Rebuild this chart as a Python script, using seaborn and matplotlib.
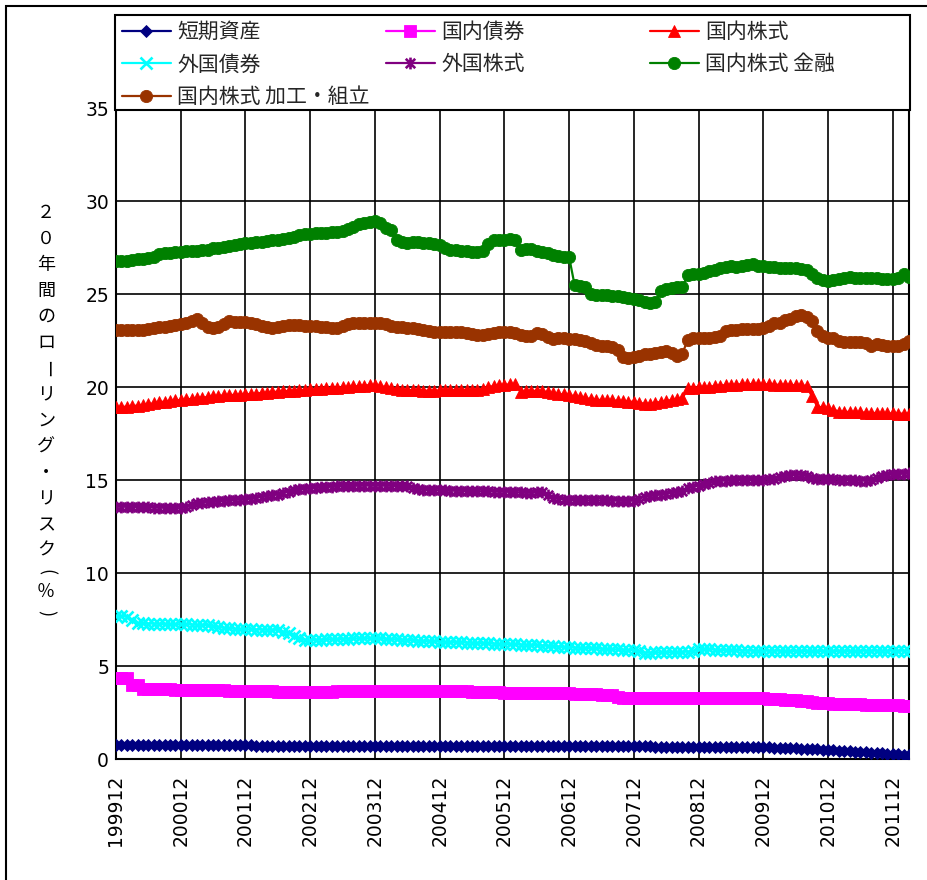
import matplotlib
matplotlib.use("Agg")
import matplotlib.pyplot as plt
import seaborn as sns
import numpy as np
from matplotlib.path import Path
from matplotlib.patches import Rectangle

sns.set_theme(style="white")
plt.rcParams["font.family"] = ["DejaVu Sans", "Noto Sans CJK JP"]

# Monthly observations, 1999/12 .. 2012/03 (148 months)
tick_labels = ["199912", "200012", "200112", "200212", "200312", "200412", "200512",
               "200612", "200712", "200812", "200912", "201012", "201112"]

short_term = [
    0.76, 0.76, 0.75, 0.75, 0.75, 0.75, 0.75, 0.74, 0.74, 0.74, 0.74, 0.74,
    0.74, 0.74, 0.74, 0.73, 0.73, 0.73, 0.73, 0.73, 0.73, 0.73, 0.73, 0.73,
    0.73, 0.73, 0.72, 0.72, 0.72, 0.72, 0.72, 0.72, 0.72, 0.72, 0.72, 0.72,
    0.72, 0.72, 0.72, 0.72, 0.72, 0.72, 0.72, 0.72, 0.72, 0.72, 0.71, 0.71,
    0.71, 0.71, 0.71, 0.71, 0.71, 0.71, 0.71, 0.71, 0.71, 0.71, 0.71, 0.71,
    0.71, 0.71, 0.71, 0.71, 0.71, 0.70, 0.70, 0.70, 0.70, 0.70, 0.70, 0.70,
    0.70, 0.70, 0.70, 0.70, 0.70, 0.70, 0.69, 0.69, 0.69, 0.69, 0.69, 0.69,
    0.69, 0.69, 0.69, 0.69, 0.69, 0.69, 0.68, 0.68, 0.68, 0.68, 0.68, 0.68,
    0.68, 0.68, 0.68, 0.68, 0.67, 0.67, 0.67, 0.67, 0.67, 0.67, 0.67, 0.67,
    0.67, 0.67, 0.66, 0.66, 0.66, 0.66, 0.65, 0.65, 0.65, 0.64, 0.64, 0.64,
    0.63, 0.62, 0.61, 0.60, 0.59, 0.58, 0.57, 0.56, 0.55, 0.53, 0.52, 0.50,
    0.48, 0.47, 0.45, 0.43, 0.42, 0.40, 0.38, 0.36, 0.34, 0.32, 0.31, 0.29,
    0.27, 0.25, 0.23, 0.21]

dom_bond = [
    4.34, 4.34, 4.34, 3.98, 3.98, 3.76, 3.75, 3.75, 3.75, 3.74, 3.74, 3.73,
    3.73, 3.72, 3.72, 3.71, 3.71, 3.70, 3.70, 3.69, 3.69, 3.68, 3.68, 3.67,
    3.67, 3.66, 3.66, 3.65, 3.64, 3.63, 3.62, 3.61, 3.60, 3.59, 3.58, 3.58,
    3.58, 3.58, 3.59, 3.60, 3.61, 3.63, 3.64, 3.65, 3.65, 3.66, 3.66, 3.66,
    3.66, 3.66, 3.66, 3.66, 3.66, 3.66, 3.66, 3.66, 3.66, 3.66, 3.66, 3.66,
    3.66, 3.65, 3.65, 3.64, 3.64, 3.63, 3.62, 3.61, 3.60, 3.59, 3.58, 3.58,
    3.57, 3.57, 3.56, 3.55, 3.54, 3.53, 3.53, 3.53, 3.53, 3.53, 3.53, 3.53,
    3.53, 3.52, 3.51, 3.50, 3.49, 3.48, 3.46, 3.45, 3.44, 3.36, 3.28, 3.27,
    3.27, 3.27, 3.27, 3.28, 3.28, 3.28, 3.29, 3.29, 3.29, 3.30, 3.30, 3.30,
    3.30, 3.30, 3.30, 3.29, 3.29, 3.29, 3.28, 3.28, 3.28, 3.27, 3.27, 3.26,
    3.26, 3.24, 3.22, 3.20, 3.18, 3.17, 3.15, 3.13, 3.11, 3.05, 3.00, 3.00,
    2.99, 2.98, 2.97, 2.97, 2.96, 2.95, 2.94, 2.93, 2.92, 2.91, 2.90, 2.89,
    2.88, 2.88, 2.87, 2.87]

dom_equity = [
    18.90, 18.92, 18.95, 18.98, 19.00, 19.03, 19.08, 19.12, 19.18, 19.22, 19.26, 19.28,
    19.30, 19.33, 19.36, 19.40, 19.43, 19.46, 19.50, 19.52, 19.55, 19.56, 19.58, 19.59,
    19.60, 19.62, 19.65, 19.68, 19.70, 19.73, 19.75, 19.77, 19.79, 19.80, 19.83, 19.85,
    19.87, 19.88, 19.90, 19.92, 19.94, 19.96, 19.98, 20.00, 20.03, 20.05, 20.08, 20.10,
    20.10, 20.05, 20.00, 19.95, 19.90, 19.86, 19.84, 19.83, 19.82, 19.81, 19.80, 19.80,
    19.82, 19.83, 19.84, 19.84, 19.85, 19.85, 19.86, 19.86, 19.90, 20.00, 20.05, 20.10,
    20.12, 20.14, 20.15, 19.75, 19.76, 19.78, 19.80, 19.78, 19.72, 19.66, 19.62, 19.60,
    19.57, 19.50, 19.45, 19.40, 19.35, 19.32, 19.30, 19.30, 19.28, 19.26, 19.24, 19.22,
    19.20, 19.15, 19.10, 19.10, 19.15, 19.20, 19.25, 19.30, 19.35, 19.40, 19.92, 19.95,
    19.98, 20.00, 20.02, 20.05, 20.08, 20.10, 20.12, 20.13, 20.15, 20.15, 20.16, 20.16,
    20.15, 20.14, 20.13, 20.12, 20.12, 20.11, 20.10, 20.10, 20.05, 19.50, 18.95, 18.90,
    18.85, 18.78, 18.68, 18.67, 18.66, 18.65, 18.64, 18.62, 18.61, 18.60, 18.59, 18.58,
    18.58, 18.57, 18.57, 18.56]

for_bond = [
    7.69, 7.68, 7.65, 7.45, 7.30, 7.29, 7.28, 7.28, 7.27, 7.26, 7.25, 7.25,
    7.24, 7.24, 7.23, 7.22, 7.21, 7.20, 7.15, 7.10, 7.05, 7.02, 7.00, 6.98,
    6.97, 6.97, 6.96, 6.96, 6.95, 6.95, 6.94, 6.85, 6.75, 6.60, 6.50, 6.42,
    6.40, 6.41, 6.42, 6.43, 6.44, 6.45, 6.46, 6.47, 6.48, 6.48, 6.49, 6.49,
    6.49, 6.48, 6.46, 6.45, 6.43, 6.42, 6.40, 6.38, 6.36, 6.35, 6.33, 6.32,
    6.31, 6.30, 6.29, 6.28, 6.27, 6.26, 6.25, 6.24, 6.22, 6.21, 6.20, 6.19,
    6.18, 6.17, 6.16, 6.15, 6.14, 6.13, 6.12, 6.10, 6.08, 6.06, 6.04, 6.02,
    6.00, 5.99, 5.98, 5.97, 5.96, 5.95, 5.93, 5.92, 5.90, 5.89, 5.88, 5.87,
    5.86, 5.78, 5.72, 5.72, 5.73, 5.73, 5.74, 5.74, 5.75, 5.76, 5.77, 5.80,
    5.90, 5.92, 5.90, 5.88, 5.86, 5.85, 5.84, 5.84, 5.83, 5.83, 5.82, 5.82,
    5.82, 5.82, 5.82, 5.82, 5.81, 5.81, 5.81, 5.81, 5.81, 5.81, 5.81, 5.81,
    5.81, 5.81, 5.81, 5.81, 5.81, 5.81, 5.82, 5.82, 5.82, 5.82, 5.82, 5.82,
    5.82, 5.82, 5.82, 5.83]

for_equity = [
    13.57, 13.56, 13.56, 13.55, 13.55, 13.54, 13.53, 13.52, 13.52, 13.50, 13.50, 13.49,
    13.48, 13.55, 13.65, 13.75, 13.77, 13.80, 13.82, 13.85, 13.88, 13.90, 13.93, 13.95,
    13.96, 14.00, 14.05, 14.10, 14.14, 14.18, 14.22, 14.30, 14.38, 14.45, 14.50, 14.53,
    14.55, 14.58, 14.60, 14.62, 14.64, 14.66, 14.68, 14.68, 14.69, 14.69, 14.70, 14.70,
    14.70, 14.70, 14.69, 14.69, 14.68, 14.68, 14.66, 14.58, 14.50, 14.48, 14.46, 14.45,
    14.45, 14.44, 14.43, 14.42, 14.42, 14.41, 14.40, 14.40, 14.39, 14.39, 14.38, 14.38,
    14.37, 14.36, 14.35, 14.33, 14.32, 14.31, 14.33, 14.35, 14.20, 14.05, 14.00, 13.95,
    13.92, 13.92, 13.91, 13.91, 13.90, 13.90, 13.90, 13.90, 13.89, 13.89, 13.88, 13.88,
    13.89, 14.00, 14.10, 14.14, 14.18, 14.22, 14.26, 14.30, 14.34, 14.40, 14.55, 14.65,
    14.70, 14.76, 14.84, 14.92, 14.96, 14.97, 14.98, 14.98, 14.99, 14.99, 15.00, 15.00,
    15.00, 15.04, 15.08, 15.14, 15.20, 15.26, 15.28, 15.28, 15.20, 15.10, 15.07, 15.05,
    15.04, 15.03, 15.02, 15.00, 14.99, 14.98, 14.97, 14.96, 14.98, 15.10, 15.20, 15.26,
    15.30, 15.32, 15.34, 15.36]

dom_financial = [
    26.75, 26.78, 26.80, 26.83, 26.86, 26.90, 26.95, 27.00, 27.15, 27.20, 27.22, 27.25,
    27.28, 27.30, 27.30, 27.32, 27.35, 27.38, 27.45, 27.50, 27.55, 27.60, 27.62, 27.68,
    27.75, 27.76, 27.78, 27.80, 27.85, 27.88, 27.92, 27.95, 28.00, 28.05, 28.15, 28.22,
    28.25, 28.26, 28.28, 28.30, 28.32, 28.35, 28.40, 28.50, 28.62, 28.75, 28.82, 28.85,
    28.90, 28.82, 28.55, 28.45, 27.90, 27.80, 27.75, 27.78, 27.78, 27.76, 27.74, 27.70,
    27.65, 27.50, 27.38, 27.35, 27.33, 27.30, 27.28, 27.27, 27.30, 27.70, 27.88, 27.90,
    27.92, 27.95, 27.88, 27.35, 27.40, 27.42, 27.30, 27.25, 27.18, 27.10, 27.05, 27.00,
    26.98, 25.50, 25.45, 25.35, 25.00, 24.95, 24.95, 24.95, 24.90, 24.90, 24.85, 24.80,
    24.75, 24.70, 24.55, 24.50, 24.55, 25.15, 25.25, 25.30, 25.35, 25.40, 26.00, 26.05,
    26.10, 26.15, 26.25, 26.30, 26.40, 26.45, 26.48, 26.45, 26.50, 26.55, 26.60, 26.52,
    26.48, 26.45, 26.45, 26.42, 26.40, 26.38, 26.38, 26.35, 26.30, 26.05, 25.85, 25.75,
    25.72, 25.75, 25.80, 25.85, 25.90, 25.88, 25.86, 25.85, 25.85, 25.84, 25.83, 25.82,
    25.82, 25.85, 26.05, 25.92]

dom_assembly = [
    23.05, 23.05, 23.05, 23.05, 23.06, 23.08, 23.10, 23.15, 23.22, 23.25, 23.30, 23.35,
    23.40, 23.45, 23.55, 23.65, 23.45, 23.20, 23.15, 23.20, 23.40, 23.55, 23.50, 23.50,
    23.50, 23.45, 23.40, 23.30, 23.20, 23.15, 23.20, 23.30, 23.33, 23.33, 23.32, 23.30,
    23.30, 23.28, 23.25, 23.20, 23.15, 23.15, 23.30, 23.40, 23.42, 23.45, 23.46, 23.46,
    23.45, 23.42, 23.38, 23.30, 23.22, 23.20, 23.15, 23.18, 23.10, 23.05, 23.00, 22.98,
    22.97, 22.96, 22.95, 22.95, 22.94, 22.92, 22.85, 22.80, 22.78, 22.85, 22.90, 22.95,
    22.97, 22.95, 22.88, 22.82, 22.72, 22.75, 22.88, 22.85, 22.70, 22.60, 22.62, 22.62,
    22.60, 22.58, 22.52, 22.45, 22.35, 22.25, 22.20, 22.20, 22.15, 22.00, 21.60, 21.55,
    21.60, 21.65, 21.75, 21.80, 21.85, 21.90, 21.92, 21.85, 21.65, 21.80, 22.55, 22.62,
    22.64, 22.65, 22.66, 22.70, 22.75, 23.00, 23.05, 23.08, 23.10, 23.12, 23.12, 23.13,
    23.15, 23.30, 23.45, 23.45, 23.60, 23.65, 23.80, 23.88, 23.75, 23.55, 23.00, 22.75,
    22.62, 22.62, 22.45, 22.44, 22.44, 22.42, 22.40, 22.35, 22.20, 22.30, 22.28, 22.18,
    22.20, 22.22, 22.30, 22.45]

series_names = ["短期資産", "国内債券", "国内株式", "外国債券", "外国株式",
                "国内株式 金融", "国内株式 加工・組立"]
series_values = [short_term, dom_bond, dom_equity, for_bond, for_equity,
                 dom_financial, dom_assembly]
series_colors = ["#000080", "#FF00FF", "#FF0000", "#00FFFF", "#800080",
                 "#008000", "#993300"]

# Asterisk marker: an "x" crossed by a vertical stroke
asterisk = Path([(-1, -1), (1, 1), (-1, 1), (1, -1), (0, -1.25), (0, 1.25)],
                [Path.MOVETO, Path.LINETO, Path.MOVETO, Path.LINETO,
                 Path.MOVETO, Path.LINETO])
series_markers = ["D", "s", "^", "x", asterisk, "o", "o"]
marker_sizes = [6.6, 9.0, 9.0, 8.5, 8.5, 8.8, 8.8]

W, H = 928, 880
fig = plt.figure(figsize=(W / 100, H / 100), dpi=100)
fig.patch.set_facecolor("white")

ax_left, ax_right, ax_top, ax_bottom = 116, 909, 108, 759
ax = fig.add_axes([ax_left / W, 1 - ax_bottom / H,
                   (ax_right - ax_left) / W, (ax_bottom - ax_top) / H])
ax.set_facecolor("white")

months = np.arange(len(short_term))
for name, vals, col, mk, ms in zip(series_names, series_values, series_colors,
                                   series_markers, marker_sizes):
    line_marker = mk in ("x",) or isinstance(mk, Path)
    sns.lineplot(x=months, y=vals, ax=ax, color=col, linewidth=1.6,
                 marker=mk, markersize=ms, markerfacecolor=col,
                 markeredgecolor=col, markeredgewidth=1.9 if line_marker else 0.6,
                 label=name, legend=False, zorder=3)

ax.set_xlim(0, len(short_term) - 1)
ax.set_ylim(0, 35)
ax.set_yticks(range(0, 36, 5))
ax.set_xticks(range(0, len(short_term), 12))
ax.set_xticklabels(tick_labels, rotation=90)
ax.set_xlabel("")
ax.set_ylabel("")
ax.grid(True, color="black", linewidth=1.2)
ax.set_axisbelow(True)
for sp in ax.spines.values():
    sp.set_color("black")
    sp.set_linewidth(1.5)
ax.tick_params(axis="x", direction="out", length=5, width=1.2, color="black",
               labelsize=13.5, labelcolor="black", pad=6)
ax.tick_params(axis="y", direction="out", length=0, labelsize=13.5,
               labelcolor="black", pad=5)

# Outer chart border
fig.patches.append(Rectangle((6 / W, -0.1), 1.2, (1 - 6 / H) + 0.1,
                             transform=fig.transFigure, fill=False,
                             edgecolor="black", linewidth=1.5, zorder=0))

# Legend frame and three legend columns
lg_left, lg_top, lg_right, lg_bottom = 115, 15, 910, 110
fig.patches.append(Rectangle((lg_left / W, 1 - lg_bottom / H),
                             (lg_right - lg_left) / W, (lg_bottom - lg_top) / H,
                             transform=fig.transFigure, facecolor="white",
                             edgecolor="black", linewidth=1.5, zorder=4))

handles, labels = ax.get_legend_handles_labels()
columns = [[0, 3, 6], [1, 4], [2, 5]]
col_x = [122, 386, 650]
for cx, idxs in zip(col_x, columns):
    fig.legend([handles[i] for i in idxs], [labels[i] for i in idxs],
               loc="upper left", bbox_to_anchor=(cx / W, 1 - 21 / H),
               bbox_transform=fig.transFigure, frameon=False,
               borderpad=0, borderaxespad=0, handlelength=2.35,
               handletextpad=0.3, labelspacing=0.5, numpoints=1,
               prop={"family": ["Noto Sans CJK JP", "DejaVu Sans"], "size": 15})

# Vertical axis title, one character per line
ylabel_chars = ["２", "０", "年", "間", "の", "ロ", "ー", "リ", "ン", "グ", "・",
                "リ", "ス", "ク", "(", "％", ")"]
ylabel_pos = [213, 239, 265, 291, 317, 343, 369, 395, 421, 447, 473,
              499, 525, 551, 572, 592, 613]
for ch, yp in zip(ylabel_chars, ylabel_pos):
    rot = -90 if ch in ("ー", "(", ")") else 0
    fig.text(46 / W, 1 - yp / H, ch, ha="center", va="center", rotation=rot,
             fontsize=13, color="black",
             family=["Noto Sans CJK JP", "DejaVu Sans"])

fig.savefig("out.png", dpi=100, facecolor="white")
